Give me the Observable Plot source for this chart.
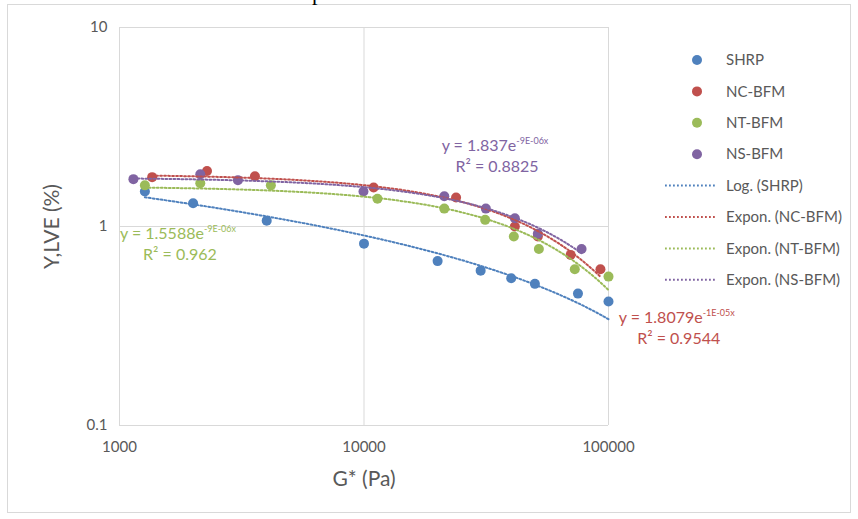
<!DOCTYPE html>
<html><head><meta charset="utf-8">
<script src="https://cdn.jsdelivr.net/npm/d3@7"></script>
<script src="https://cdn.jsdelivr.net/npm/@observablehq/plot@0.6"></script>
<style>body{margin:0;background:#fff;}</style>
</head><body><div id="chart"></div>
<script>
// ---- data ----
const seriesNames = ["SHRP", "NC-BFM", "NT-BFM", "NS-BFM"];
const seriesColors = ["#4F81BD", "#C0504D", "#9BBB59", "#8064A2"];
const trendLabels = ["Log. (SHRP)", "Expon. (NC-BFM)", "Expon. (NT-BFM)", "Expon. (NS-BFM)"];
const trendTypes = ["log", "exp", "exp", "exp"];

const shrpG = [1270, 2000, 4000, 10000, 20000, 30000, 40000, 50000, 75000, 100000];
const shrpY = [1.50, 1.31, 1.07, 0.82, 0.67, 0.60, 0.55, 0.515, 0.46, 0.42];
const ncG = [1360, 2280, 3580, 10950, 23800, 41400, 51400, 70000, 92700];
const ncY = [1.77, 1.90, 1.79, 1.57, 1.40, 1.00, 0.89, 0.72, 0.61];
const ntG = [1270, 2140, 4160, 11350, 21300, 31300, 41000, 51900, 72800, 100000];
const ntY = [1.61, 1.65, 1.61, 1.38, 1.23, 1.08, 0.89, 0.77, 0.61, 0.56];
const nsG = [1140, 2140, 3050, 9950, 21300, 31500, 41400, 51400, 77600];
const nsY = [1.73, 1.83, 1.71, 1.50, 1.42, 1.23, 1.10, 0.92, 0.77];

const xTicks = [1000, 10000, 100000];
const yTicks = [0.1, 1, 10];

// trendline equation labels (as printed on the chart)
const eqSeries = ["NS-BFM", "NT-BFM", "NC-BFM"];
const eqBase = ["y = 1.837e", "y = 1.5588e", "y = 1.8079e"];
const eqSup = ["-9E-06x", "-9E-06x", "-1E-05x"];
const eqR2 = ["R² = 0.8825", "R² = 0.962", "R² = 0.9544"];
const eqAtG = [34500, 1742, 191000];
const eqAtY = [2.38, 0.86, 0.326];

// ---- build tables ----
const gs = [shrpG, ncG, ntG, nsG];
const ys = [shrpY, ncY, ntY, nsY];
const points = [];
seriesNames.forEach((s, i) => gs[i].forEach((g, j) => points.push({series: s, G: g, Y: ys[i][j]})));

function fit(xs, yv, type) {
  const X = type === "log" ? xs.map(Math.log) : xs;
  const Y = type === "log" ? yv : yv.map(Math.log);
  const mx = d3.mean(X), my = d3.mean(Y);
  const a = d3.sum(X, (x, k) => (x - mx) * (Y[k] - my)) / d3.sum(X, x => (x - mx) ** 2);
  const b = my - a * mx;
  return type === "log" ? (x => a * Math.log(x) + b) : (x => Math.exp(b + a * x));
}
const trends = [];
seriesNames.forEach((s, i) => {
  const f = fit(gs[i], ys[i], trendTypes[i]);
  const [lo, hi] = d3.extent(gs[i]).map(Math.log10);
  const n = 120;
  for (let k = 0; k <= n; k++) {
    const g = 10 ** (lo + (hi - lo) * k / n);
    trends.push({series: s, G: g, Y: f(g)});
  }
});

const font = "Lato, 'Open Sans', sans-serif";
const gray = "#595959";
const dash = "1.8,2.2";

const chart = Plot.plot({
  width: 858, height: 519,
  marginLeft: 119, marginRight: 250, marginTop: 27, marginBottom: 94,
  style: {fontFamily: font, background: "#fff", overflow: "visible"},
  x: {type: "log", domain: [1000, 100000]},
  y: {type: "log", domain: [0.1, 10]},
  color: {domain: seriesNames, range: seriesColors},
  marks: [
    Plot.gridX(xTicks, {stroke: "#d9d9d9", strokeOpacity: 1, strokeWidth: 1}),
    Plot.gridY(yTicks, {stroke: "#d9d9d9", strokeOpacity: 1, strokeWidth: 1}),
    Plot.axisX(xTicks, {tickSize: 0, tickPadding: 16, tickFormat: d => String(d), fontSize: 15, fill: gray, label: null}),
    Plot.axisY(yTicks, {tickSize: 0, tickPadding: 12, tickFormat: d => String(d), fontSize: 15, fill: gray, label: null}),
    Plot.dot(points, {x: "G", y: "Y", r: 5, fill: "series", stroke: null}),
    Plot.line(trends, {x: "G", y: "Y", z: "series", stroke: "series", strokeWidth: 2, strokeDasharray: dash}),
    Plot.text(["G* (Pa)"], {frameAnchor: "bottom", dy: 54, lineAnchor: "middle", textAnchor: "middle", fontSize: 21, fill: gray}),
    Plot.text(["Y,LVE (%)"], {frameAnchor: "left", dx: -67, rotate: -90, lineAnchor: "middle", textAnchor: "middle", fontSize: 21, fill: gray})
  ]
});
document.getElementById("chart").appendChild(chart);

const svg = d3.select(chart);
const sx = chart.scale("x"), sy = chart.scale("y");
const colorOf = s => seriesColors[seriesNames.indexOf(s)];

// outer chart border
svg.append("rect").attr("x", 7.5).attr("y", 4.5).attr("width", 843).attr("height", 508)
  .attr("fill", "none").attr("stroke", "#d9d9d9");
// cropped caption above the chart (only its descender shows)
svg.append("text").attr("x", 312).attr("y", 0).attr("text-anchor", "start")
  .attr("font-family", "'Liberation Serif', serif")
  .attr("font-size", 22).attr("fill", "#000").text("p");

// equation labels
eqSeries.forEach((s, i) => {
  const cx = sx.apply(eqAtG[i]), cy = sy.apply(eqAtY[i]);
  const c = colorOf(s);
  const t = svg.append("text").attr("x", cx).attr("y", cy).attr("text-anchor", "middle")
    .attr("fill", c).attr("font-family", font).attr("font-size", 16);
  t.append("tspan").text(eqBase[i]);
  t.append("tspan").attr("font-size", 9).attr("dy", -7).text(eqSup[i]);
  svg.append("text").attr("x", cx + 2).attr("y", cy + 21).attr("text-anchor", "middle")
    .attr("fill", c).attr("font-family", font).attr("font-size", 16).text(eqR2[i]);
});

// legend
const lg = svg.append("g").attr("font-family", font).attr("font-size", 15)
  .attr("fill", gray).attr("text-anchor", "start");
const rowY0 = 60, rowStep = 31.4;
seriesNames.forEach((s, i) => {
  const y = rowY0 + i * rowStep;
  lg.append("circle").attr("cx", 697).attr("cy", y).attr("r", 5).attr("fill", colorOf(s));
  lg.append("text").attr("x", 726).attr("y", y).attr("dy", "0.35em").text(s);
});
trendLabels.forEach((s, i) => {
  const y = rowY0 + (i + 4) * rowStep;
  lg.append("line").attr("x1", 665).attr("x2", 716).attr("y1", y).attr("y2", y)
    .attr("stroke", seriesColors[i]).attr("stroke-width", 2).attr("stroke-dasharray", dash);
  lg.append("text").attr("x", 726).attr("y", y).attr("dy", "0.35em").text(s);
});
</script></body></html>
